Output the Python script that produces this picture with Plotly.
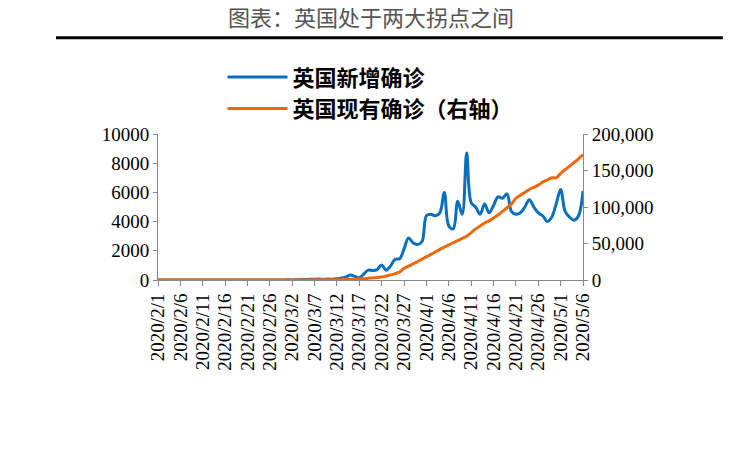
import plotly.graph_objects as go
import pandas as pd

dates = pd.date_range("2020-02-01", "2020-05-06", freq="D")
labels = [f"{d.year}/{d.month}/{d.day}" for d in dates]

new_cases = [0,0,0,0,0,0,0,1,0,5,0,0,0,0,0,0,0,0,0,0,0,0,1,4,0,4,2,5,3,
             12,4,11,34,29,48,45,69,43,67,52,83,134,208,342,251,152,407,676,643,714,1035,665,967,1427,1452,2129,2885,2546,2433,2619,
             4400,4500,4400,4600,6000,3700,3500,5400,4500,8700,5300,5000,4500,5200,4600,5100,5700,5600,5900,4700,4500,4600,5000,5500,5000,4600,4400,4000,4300,5200,
             6200,4700,4300,4100,4400,6100]
active = [0,0,0,0,0,0,0,2,2,7,7,7,7,7,7,7,7,7,7,7,7,7,8,12,12,15,17,22,25,
          35,38,48,80,110,160,200,260,300,360,400,480,600,800,1100,1300,1500,1800,2300,2900,3500,4000,5500,7000,8800,11000,16000,19000,22000,25000,28500,
          32000,35000,38500,42000,45000,48000,51000,54000,57000,60000,65000,70000,74000,78000,81000,85000,89000,94000,99000,104000,112000,116000,120000,124000,127000,130000,134000,137000,140000,140000,
          146000,151000,156000,161000,166000,172000]

tickvals = labels[::5]

fig = go.Figure()
fig.add_trace(go.Scatter(x=labels, y=new_cases, name="<b>英国新增确诊</b>", mode="lines",
                         line=dict(color="#0B6FBF", width=3), line_shape="spline"))
fig.add_trace(go.Scatter(x=labels, y=active, name="<b>英国现有确诊（右轴）</b>", mode="lines",
                         line=dict(color="#F0680C", width=3), yaxis="y2", line_shape="spline"))

tickfont = dict(family="Liberation Serif", size=19, color="black")
fig.update_layout(
    width=731, height=471,
    margin=dict(l=150, r=156, t=126, b=199),
    plot_bgcolor="white", paper_bgcolor="white",
    showlegend=True,
    legend=dict(orientation="h", x=0.5, xanchor="center", y=1.28, yanchor="middle",
                font=dict(family="Noto Sans CJK SC", size=22, color="black"), traceorder="normal",
                itemwidth=60),
    xaxis=dict(type="category", tickmode="array", tickvals=tickvals, ticktext=tickvals,
               tickangle=-90, tickfont=tickfont, showgrid=False, showline=True, linecolor="#888888",
               ticks="outside", ticklen=5, tickcolor="#888888"),
    yaxis=dict(range=[0, 10000], dtick=2000, tickformat="d", tickfont=tickfont, showgrid=False,
               showline=True, linecolor="#888888", ticks="outside", ticklen=4, tickcolor="#888888", zeroline=False),
    yaxis2=dict(range=[0, 200000], dtick=50000, tickformat=",d", tickfont=tickfont, overlaying="y", side="right",
                showgrid=False, showline=True, linecolor="#888888", ticks="outside", ticklen=4, tickcolor="#888888", zeroline=False),
    annotations=[dict(text="图表：英国处于两大拐点之间", x=0.5, y=1.81, xref="paper", yref="paper",
                      xanchor="center", yanchor="middle", showarrow=False,
                      font=dict(family="Noto Sans CJK SC", size=22, color="#555555"))],
    shapes=[dict(type="line", xref="paper", yref="paper", x0=-0.24, x1=1.329, y0=1.66, y1=1.66,
                 line=dict(color="black", width=3))],
)
fig.write_html("out.html")
